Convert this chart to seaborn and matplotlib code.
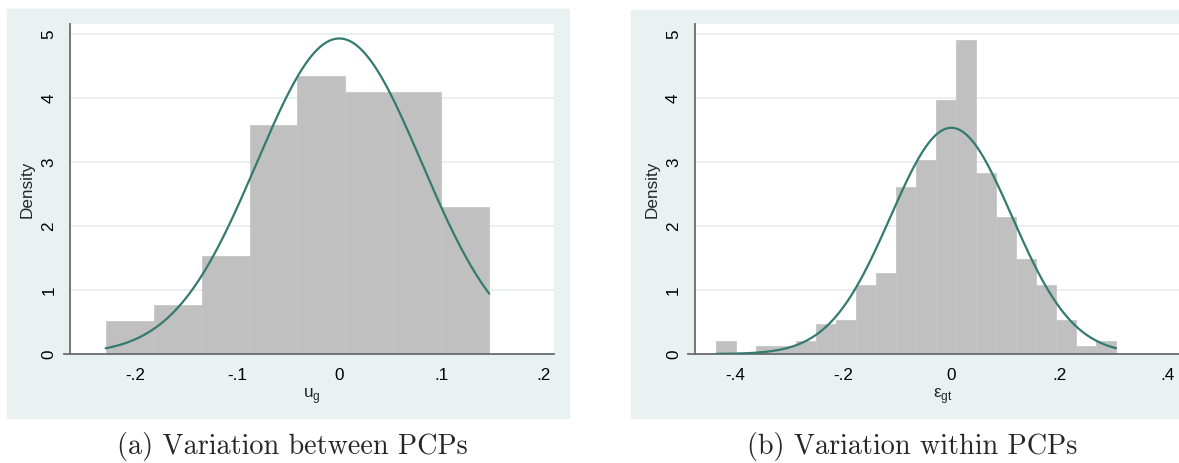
import numpy as np
import pandas as pd
import matplotlib
matplotlib.use("Agg")
import matplotlib.pyplot as plt
from matplotlib.patches import Rectangle
import seaborn as sns

# ---------------- data ----------------
# Panel (a): between-PCP variation u_g
edges_a = [-0.229, -0.182, -0.135, -0.088, -0.041, 0.006, 0.053, 0.100, 0.147]
dens_a = [0.512, 0.768, 1.536, 3.584, 4.352, 4.096, 4.096, 2.304]
mean_a, sd_a = 0.0, 0.0808
xticks_a = [-0.2, -0.1, 0.0, 0.1, 0.2]
xticklabels_a = ["-.2", "-.1", "0", ".1", ".2"]

# Panel (b): within-PCP variation eps_gt
edges_b = [-0.435, -0.398, -0.361, -0.324, -0.287, -0.250, -0.213, -0.176,
           -0.139, -0.102, -0.065, -0.028, 0.009, 0.046, 0.083, 0.120,
           0.157, 0.194, 0.231, 0.268, 0.305]
dens_b = [0.20, 0.0, 0.13, 0.13, 0.20, 0.47, 0.53, 1.08, 1.27, 2.62,
          3.03, 3.98, 4.92, 2.83, 2.15, 1.48, 1.08, 0.53, 0.13, 0.20]
mean_b, sd_b = 0.0, 0.1127
xticks_b = [-0.4, -0.2, 0.0, 0.2, 0.4]
xticklabels_b = ["-.4", "-.2", "0", ".2", ".4"]

yticks = [0, 1, 2, 3, 4, 5]
ytick_labels = ["0", "1", "2", "3", "4", "5"]
captions = ["(a) Variation between PCPs", "(b) Variation within PCPs"]
xlabels = [r"u$_\mathregular{g}$", r"ε$_\mathregular{gt}$"]

# ---------------- style ----------------
sns.set_style("white")
plt.rcParams["font.family"] = ["Liberation Sans", "DejaVu Sans"]
plt.rcParams["mathtext.fontset"] = "custom"
plt.rcParams["mathtext.rm"] = "Liberation Sans"

BG = "#e9f1f3"
GRID = "#e6eff1"
BAR = "#c0c0c0"
CURVE = "#357a70"
AXC = "#6b6b6b"

W, H = 1179, 463
fig = plt.figure(figsize=(W / 100, H / 100), dpi=100)
fig.patch.set_facecolor("white")

# graph-region backgrounds (pixel geometry of the reference)
fig.patches.append(Rectangle((6.7 / W, 1 - 418.3 / H), (569 - 6.7) / W, (418.3 - 9) / H,
                             transform=fig.transFigure, color=BG, zorder=-5))
fig.patches.append(Rectangle((631 / W, 1 - 418.3 / H), (1185 - 631) / W, (418.3 - 10) / H,
                             transform=fig.transFigure, color=BG, zorder=-5))

ax1 = fig.add_axes([70.3 / W, 1 - 354 / H, 484 / W, 330 / H])
ax2 = fig.add_axes([695 / W, 1 - 354 / H, (1190 - 695) / W, 330 / H])
ax1.set_zorder(1)
ax2.set_zorder(1)

panels = [
    (ax1, edges_a, dens_a, mean_a, sd_a, xticks_a, xticklabels_a, (-0.2637, 0.2108), 1020.0),
    (ax2, edges_b, dens_b, mean_b, sd_b, xticks_b, xticklabels_b, (-0.4746, 0.442), 540.0),
]

for i, (ax, edges, dens, mu, sd, xt, xtl, xlim, pxper) in enumerate(panels):
    e = np.asarray(edges)
    centers = (e[:-1] + e[1:]) / 2
    df = pd.DataFrame({"x": centers, "w": dens})
    ax.set_facecolor("white")
    sns.histplot(data=df, x="x", weights="w", bins=list(edges), stat="count",
                 color=BAR, alpha=1.0, edgecolor="#c6c6c6", linewidth=0.6,
                 ax=ax, zorder=2)
    xs = np.linspace(e[0], e[-1], 400)
    pdf = np.exp(-0.5 * ((xs - mu) / sd) ** 2) / (sd * np.sqrt(2 * np.pi))
    sns.lineplot(x=xs, y=pdf, color=CURVE, linewidth=1.6, ax=ax, zorder=3)

    ax.set_xlim(*xlim)
    ax.set_ylim(0, 5.164)
    ax.set_xticks(xt)
    ax.set_xticklabels(xtl)
    ax.set_yticks(yticks)
    ax.set_yticklabels(ytick_labels, rotation=90, va="center")
    ax.yaxis.grid(True, color=GRID, linewidth=1.3)
    ax.xaxis.grid(False)
    ax.set_axisbelow(True)
    for s in ["top", "right"]:
        ax.spines[s].set_visible(False)
    for s in ["left", "bottom"]:
        ax.spines[s].set_color(AXC)
        ax.spines[s].set_linewidth(1.3)
    ax.spines["bottom"].set_bounds(xlim[0] - 6.5 / pxper, xlim[1])
    ax.tick_params(axis="both", direction="out", length=6, width=1.2, color=AXC,
                   labelsize=12.3, labelcolor="black", pad=4)
    ax.set_ylabel("Density", fontsize=12.3, labelpad=5)
    ax.set_xlabel(xlabels[i], fontsize=12.3, labelpad=2)

fig.text(292.8 / W, 1 - 454 / H, captions[0], family=["cmr10", "DejaVu Serif"],
         fontsize=20.3, ha="center", va="baseline")
fig.text(912 / W, 1 - 454 / H, captions[1], family=["cmr10", "DejaVu Serif"],
         fontsize=20.3, ha="center", va="baseline")

fig.savefig("out.png", dpi=100, facecolor="white")
